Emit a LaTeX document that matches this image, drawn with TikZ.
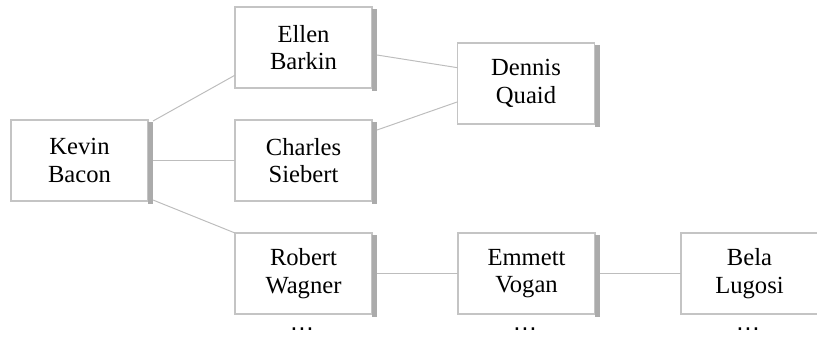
\documentclass[tikz,border=0pt]{standalone}
\usepackage{fontspec}
\setmainfont{Liberation Serif}
\newfontfamily\dotsfont{Liberation Sans}
\usetikzlibrary{calc}
\definecolor{boxline}{HTML}{C4C4C4}
\definecolor{boxshade}{HTML}{ABABAB}
\definecolor{linkline}{HTML}{BDBDBD}
\tikzset{
  actor/.style={draw=boxline,line width=1pt,fill=white,minimum width=3.425cm,
    minimum height=2.025cm,inner sep=0pt,outer sep=0pt,align=center,
    font=\fontsize{17.5}{19.5}\selectfont},
  more/.style={font=\dotsfont\fontsize{18}{20}\selectfont,inner sep=0pt},
  link/.style={draw=linkline,line width=0.7pt},
  shade/.style={fill=boxshade},
}
\begin{document}
\begin{tikzpicture}[x=0.025cm,y=-0.025cm]
  \useasboundingbox (0,0) rectangle (817,338);
  % boxes at pixel centres of the reference
  \node[actor] (kevin)   at (79.5,160.5)  {Kevin\\Bacon};
  \node[actor] (ellen)   at (303.5,47.5)  {Ellen\\Barkin};
  \node[actor] (charles) at (303.5,160.5) {Charles\\Siebert};
  \node[actor] (robert)  at (303.5,273.5) {Robert\\Wagner};
  \node[actor] (dennis)  at (526,83.5)    {Dennis\\Quaid};
  \node[actor] (emmett)  at (526.5,273.5) {Emmett\\Vogan};
  \node[actor] (bela)    at (749.5,273.5) {Bela\\Lugosi};
  % shadow bar on the right side of every box
  \foreach \n in {kevin,ellen,charles,robert,dennis,emmett,bela}
    \fill[shade] ($(\n.north east)+(0,2)$) rectangle ($(\n.south east)+(5,3)$);
  % links
  \draw[link] ($(kevin.north east)+(5,1)$) -- (ellen.202);
  \draw[link] ($(kevin.east)+(5,0)$) -- (charles.west);
  \draw[link] ($(kevin.south east)+(5,-1)$) -- (robert.north west);
  \draw[link] ($(ellen.east)+(5,7.5)$) -- (dennis.167);
  \draw[link] ($(charles.east)+(5,-30.5)$) -- (dennis.195);
  \draw[link] ($(robert.east)+(5,0)$) -- (emmett.west);
  \draw[link] ($(emmett.east)+(5,0)$) -- (bela.west);
  % trailing dots
  \node[more] (robertmore) at (302,329) {\char"2026};
  \node[more] (emmettmore) at (525,329) {\char"2026};
  \node[more] (belamore)   at (748,329) {\char"2026};
\end{tikzpicture}
\end{document}
